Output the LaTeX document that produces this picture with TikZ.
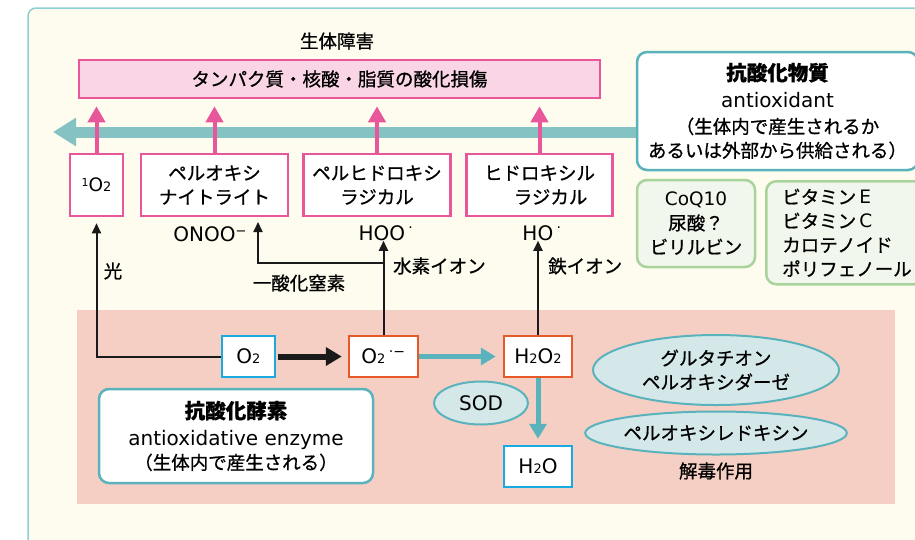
\documentclass[tikz,border=0pt]{standalone}
\usepackage{fontspec}
\setmainfont{Noto Sans CJK JP}[RawFeature={embolden=0.8}]
\newfontfamily\lat{DejaVu Sans}
\usetikzlibrary{arrows.meta,shapes.geometric}
\newcommand\subtwo{{\fontsize{13}{13}\selectfont 2}}
\definecolor{cream}{HTML}{FEFCEE}
\definecolor{outerS}{HTML}{8ECFD0}
\definecolor{pinkF}{HTML}{F9D5E5}
\definecolor{pinkS}{HTML}{E8579A}
\definecolor{tealBar}{HTML}{85C2C4}
\definecolor{tealS}{HTML}{5AB3BC}
\definecolor{salmon}{HTML}{F6CFC4}
\definecolor{ellF}{HTML}{D4E8EA}
\definecolor{greenS}{HTML}{A8D49B}
\definecolor{greenF}{HTML}{F2F7EE}
\definecolor{blueS}{HTML}{1AAAE2}
\definecolor{orangeS}{HTML}{E65A2A}
\definecolor{ink}{HTML}{1A1A1A}
\tikzset{
  jfont/.style={font=\fontsize{18.5}{24}\selectfont},
  pinkbox/.style={draw=pinkS, line width=2.5pt, fill=white, minimum height=62pt, align=center, inner sep=0pt, jfont},
  chembox/.style={draw=#1, line width=2.5pt, fill=white, minimum height=41pt, inner sep=0pt, font=\lat\fontsize{20}{24}\selectfont},
  pinkarr/.style={draw=pinkS, line width=4pt, -{Triangle[length=16pt,width=17pt]}, shorten >=7pt},
  blk/.style={draw=ink, line width=2pt, -{Triangle[length=10pt,width=9pt]}},
  ell/.style={ellipse, draw=tealS, line width=2pt, fill=ellF, inner sep=0pt, align=center, jfont},
  rbox/.style={rounded corners=10pt, draw=tealS, line width=2.5pt, fill=white, align=center, inner sep=0pt, jfont},
  gbox/.style={rounded corners=10pt, draw=greenS, line width=2.5pt, fill=greenF, jfont},
  lbl/.style={inner sep=0pt, jfont},
  latlbl/.style={inner sep=0pt, font=\lat\fontsize{20}{24}\selectfont},
  tealarr/.style={draw=tealS, line width=5pt, -{Triangle[length=15pt,width=17pt]}},
}
\begin{document}
\begin{tikzpicture}[x=1pt,y=-1pt]
\useasboundingbox (0,0) rectangle (915,539);
\clip (0,0) rectangle (915,539);
% background
\draw[fill=cream, draw=outerS, line width=1.5pt, rounded corners=8pt] (28,8) rectangle (940,570);
\fill[salmon] (77,310) rectangle (895,504);
% top
\node[lbl] (title) at (337,41) {生体障害};
\node[draw=pinkS, fill=pinkF, line width=2.5pt, minimum width=521pt, minimum height=38pt, inner sep=0pt, jfont] (dmg) at (339.5,79) {タンパク質・核酸・脂質の酸化損傷};
\node[rbox, minimum width=281pt, minimum height=118pt] (antiox) at (777.5,111)
  {{\bfseries\fontsize{20.5}{24}\selectfont 抗酸化物質}\\[3pt]
   {\lat\fontsize{20}{24}\selectfont antioxidant}\\[2pt]
   （生体内で産生されるか\\
   あるいは外部から供給される）};
\coordinate (tealtip) at (53,132);
\draw[draw=tealBar, line width=11pt, -{Triangle[length=23pt,width=27pt]}] (antiox.west |- tealtip) -- (tealtip);
% species boxes
\node[pinkbox, minimum width=53pt] (o1) at (96.5,185) {\lat\raisebox{5pt}{\fontsize{11}{11}\selectfont 1}O\subtwo};
\node[pinkbox, minimum width=147pt] (onoo) at (214.5,185) {ペルオキシ\\ナイトライト};
\node[pinkbox, minimum width=147pt] (hoo) at (377,185) {ペルヒドロキシ\\ラジカル};
\node[pinkbox, minimum width=146pt] (ho) at (539.5,185) {ヒドロキシル\\\hspace*{1.2em}ラジカル};
\foreach \n in {o1,onoo,hoo,ho}
  \draw[pinkarr] (\n.north) -- (\n.north |- dmg.south);
% labels
\node[latlbl] (onoolab) at (210,234) {ONOO\raisebox{6pt}{\fontsize{13}{13}\selectfont −}};
\node[latlbl] (hoolab) at (386,233) {HOO\,\textsuperscript{·}};
\node[latlbl] (holab) at (542,233) {HO\,\textsuperscript{·}};
% antioxidant groups
\node[gbox, minimum width=118pt, minimum height=87pt, align=center, inner sep=0pt] (coq) at (696,223.5)
  {{\lat CoQ10}\\尿酸？\\ビリルビン};
\node[gbox, anchor=north west, minimum height=103pt, text width=150pt, inner xsep=16pt, inner ysep=0pt, align=left] (vit) at (765,180)
  {ビタミン\,{\lat E}\\ビタミン\,{\lat C}\\カロテノイド\\ポリフェノール};
% lower chain
\node[chembox=blueS, minimum width=53pt] (o2) at (248.5,356.5) {O\subtwo};
\node[chembox=orangeS, minimum width=69pt] (sup) at (383.5,356.5) {O\subtwo\,\textsuperscript{·−}};
\node[chembox=orangeS, minimum width=68pt] (h2o2) at (538,356.5) {H\subtwo O\subtwo};
\node[chembox=blueS, minimum width=68pt] (h2o) at (538,466.5) {H\subtwo O};
\draw[draw=ink, line width=6pt, -{Triangle[length=16pt,width=18pt]}, shorten >=6pt, shorten <=2pt] (o2.east) -- (sup.west);
\draw[tealarr, shorten >=7pt] (sup.east) -- (h2o2.west);
\draw[tealarr, shorten >=6pt] (h2o2.south) -- (h2o.north);
% black arrows
\draw[blk, shorten >=6pt] (o2.west) -| (o1.south);
\node[lbl] (hikari) at (113,271) {光};
\draw[blk] (sup.north) -- (sup.north |- hoolab.south);
\coordinate (jn) at (383.5,263);
\coordinate (onooin) at (258,216);
\draw[blk, shorten >=6pt] (jn) -| (onooin);
\node[lbl] (no) at (299,283) {一酸化窒素};
\node[lbl, anchor=west] (hion) at (393,266) {水素イオン};
\draw[blk] (h2o2.north) -- (h2o2.north |- holab.south);
\node[lbl, anchor=west] (feion) at (548,266) {鉄イオン};
% enzymes
\node[ell, minimum width=94pt, minimum height=43pt, font=\lat\fontsize{20}{24}\selectfont] (sod) at (481,403) {SOD};
\node[ell, minimum width=246pt, minimum height=70pt] (gpx) at (716,370) {グルタチオン\\ペルオキシダーゼ};
\node[ell, minimum width=246pt, minimum height=43pt] (prx) at (716,433) {ペルオキシレドキシン};
\node[lbl] (detox) at (716,471) {解毒作用};
\node[rbox, minimum width=274pt, minimum height=94pt] (enz) at (236,436)
  {{\bfseries\fontsize{20.5}{24}\selectfont 抗酸化酵素}\\[3pt]
   {\lat\fontsize{20}{24}\selectfont antioxidative enzyme}\\
   （生体内で産生される）};
\end{tikzpicture}
\end{document}
